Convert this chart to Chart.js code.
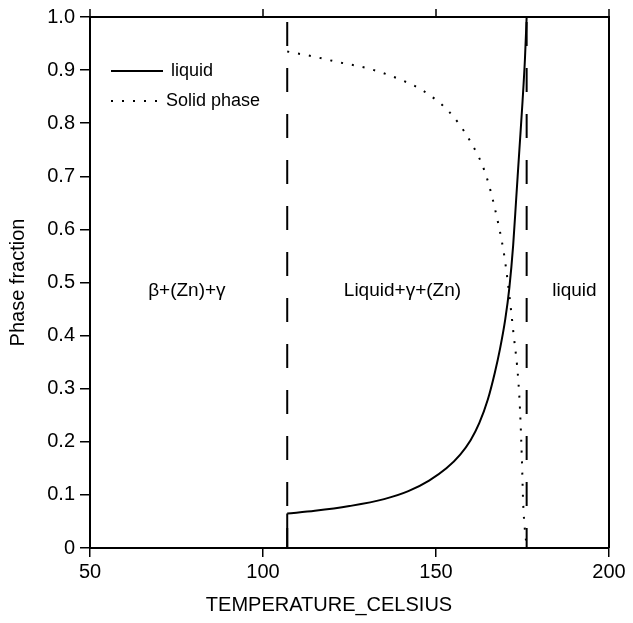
<!DOCTYPE html>
<html>
<head>
<meta charset="utf-8">
<script src="https://cdn.jsdelivr.net/npm/chart.js@4.4.1/dist/chart.umd.min.js"></script>
<style>
  html, body { margin: 0; padding: 0; background: #fff; }
  #chart { display: block; }
</style>
</head>
<body>
<canvas id="chart" width="633" height="623"></canvas>
<script>
// temperatures (Celsius) and phase fractions
const liquidTemps = [107, 115, 125, 135, 142, 148, 153, 157, 160, 162.5, 165, 167, 168.5, 170, 171.2, 172.3, 173.2, 174.1, 175, 175.7, 176.2];
const liquidFrac  = [0.065, 0.070, 0.079, 0.092, 0.107, 0.127, 0.150, 0.176, 0.203, 0.235, 0.280, 0.330, 0.375, 0.43, 0.49, 0.57, 0.66, 0.75, 0.84, 0.92, 1.0];
// vertical jump of the liquid fraction at the eutectic
const jumpTemps = [107, 107];
const jumpFrac  = [0, 0.065];

const solidTemps = [107, 115, 121, 131, 140.5, 146.3, 154, 159.8, 164.2, 167, 169.5, 170.4, 172.3, 174.1, 174.8, 175.2, 176.2];
const solidFrac  = [0.935, 0.925, 0.916, 0.902, 0.880, 0.861, 0.820, 0.767, 0.707, 0.64, 0.56, 0.519, 0.41, 0.284, 0.172, 0.084, 0];

const boundaries = [107, 176.2];
const xTicks = [50, 100, 150, 200];
const yTicks = [0, 0.1, 0.2, 0.3, 0.4, 0.5, 0.6, 0.7, 0.8, 0.9, 1.0];

const regionLabels = ['β+(Zn)+γ', 'Liquid+γ+(Zn)', 'liquid'];
const regionTemps = [78, 140.3, 190];
const regionFrac = 0.484;

const legendNames = ['liquid', 'Solid phase'];

const FONT = 'Liberation Sans, Arial, Helvetica, sans-serif';

const toPts = (xs, ys) => xs.map((x, i) => ({x: x, y: ys[i]}));

const datasets = [
    {
        label: legendNames[0],
        data: toPts(liquidTemps, liquidFrac),
        borderColor: '#000',
        borderWidth: 2,
        pointRadius: 0,
        cubicInterpolationMode: 'monotone',
        fill: false
    },
    {
        label: legendNames[1],
        data: toPts(solidTemps, solidFrac),
        borderColor: '#000',
        borderWidth: 2,
        borderDash: [2, 9],
        pointRadius: 0,
        cubicInterpolationMode: 'monotone',
        fill: false
    },
    {
        label: 'jump',
        data: toPts(jumpTemps, jumpFrac),
        borderColor: '#000',
        borderWidth: 2,
        pointRadius: 0,
        fill: false
    }
];
boundaries.forEach(t => {
    datasets.push({
        label: 'boundary',
        data: [{x: t, y: 0}, {x: t, y: 1}],
        borderColor: '#000',
        borderWidth: 2,
        borderDash: [24, 22],
        borderDashOffset: 4,
        pointRadius: 0,
        fill: false
    });
});

// frame on top with outward ticks, legend, region labels, x title
const extras = {
    id: 'extras',
    afterDraw(chart) {
        const c = chart.ctx;
        const a = chart.chartArea;
        const xs = chart.scales.x, ys = chart.scales.y;
        c.save();
        c.strokeStyle = '#000';
        c.lineWidth = 2;
        c.beginPath();
        c.moveTo(a.left, a.top); c.lineTo(a.right, a.top); c.lineTo(a.right, a.bottom);
        c.stroke();
        c.lineWidth = 1.5;
        xTicks.forEach(v => {
            const px = xs.getPixelForValue(v);
            c.beginPath(); c.moveTo(px, a.top); c.lineTo(px, a.top - 8); c.stroke();
        });

        // legend
        c.font = '18px ' + FONT;
        c.fillStyle = '#000';
        c.textBaseline = 'middle';
        c.textAlign = 'left';
        const lx = a.left + 21, ly = a.top + 54;
        for (let i = 0; i < 2; i++) {
            const ds = chart.data.datasets[i];
            const y = ly + i * 30;
            c.lineWidth = 2;
            c.setLineDash(ds.borderDash || []);
            c.beginPath(); c.moveTo(lx, y); c.lineTo(lx + 52, y); c.stroke();
            c.setLineDash([]);
            c.fillText(ds.label, lx + (i === 0 ? 60 : 55), y);
        }

        // region labels
        c.textAlign = 'center';
        c.font = '19px ' + FONT;
        regionLabels.forEach((t, i) => {
            c.fillText(t, xs.getPixelForValue(regionTemps[i]), ys.getPixelForValue(regionFrac));
        });

        // x axis title (sits a little left of centre in the original)
        c.font = '20px ' + FONT;
        c.fillText('TEMPERATURE_CELSIUS', 329, 605);
        c.restore();
    }
};

new Chart(document.getElementById('chart'), {
    type: 'line',
    data: { datasets: datasets },
    options: {
        responsive: false,
        animation: false,
        devicePixelRatio: 1,
        layout: { padding: { top: 16, right: 24, left: 0, bottom: 0 } },
        plugins: {
            legend: { display: false },
            tooltip: { enabled: false }
        },
        scales: {
            x: {
                type: 'linear',
                min: 50,
                max: 200,
                afterBuildTicks: s => { s.ticks = xTicks.map(v => ({value: v})); },
                afterFit: s => { s.height = 75; },
                ticks: { color: '#000', font: { family: FONT, size: 20 }, padding: 3, maxRotation: 0 },
                grid: { drawOnChartArea: false, drawTicks: true, tickLength: 9, color: '#000', lineWidth: 1.5 },
                border: { display: true, color: '#000', width: 2 }
            },
            y: {
                min: 0,
                max: 1,
                afterBuildTicks: s => { s.ticks = yTicks.map(v => ({value: v})); },
                afterFit: s => { s.width = 90; },
                ticks: {
                    color: '#000',
                    font: { family: FONT, size: 20 },
                    padding: 5,
                    callback: v => v === 0 ? '0' : v.toFixed(1)
                },
                grid: { drawOnChartArea: false, drawTicks: true, tickLength: 10, color: '#000', lineWidth: 1.5 },
                border: { display: true, color: '#000', width: 2 },
                title: { display: true, text: 'Phase fraction', color: '#000', font: { family: FONT, size: 20 }, padding: { top: 6, bottom: 0 } }
            }
        }
    },
    plugins: [extras]
});
</script>
</body>
</html>
